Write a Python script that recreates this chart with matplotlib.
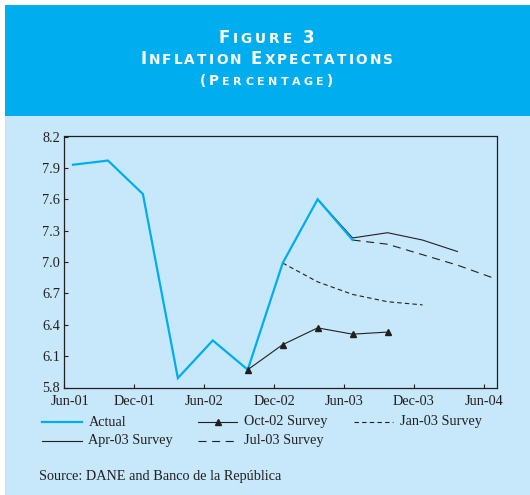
import matplotlib
matplotlib.use("Agg")
import matplotlib.pyplot as plt
from matplotlib.lines import Line2D
from matplotlib.patches import Rectangle
import matplotlib.transforms as mtransforms

# ---------------- data ----------------
actual_q = ["Jun-01", "Sep-01", "Dec-01", "Mar-02", "Jun-02", "Sep-02", "Dec-02", "Mar-03", "Jun-03"]
actual = [7.93, 7.97, 7.65, 5.89, 6.25, 5.97, 6.99, 7.60, 7.21]

oct02_q = ["Sep-02", "Dec-02", "Mar-03", "Jun-03", "Sep-03"]
oct02 = [5.97, 6.21, 6.37, 6.31, 6.33]

jan03_q = ["Dec-02", "Mar-03", "Jun-03", "Sep-03", "Dec-03"]
jan03 = [6.99, 6.81, 6.69, 6.62, 6.59]

apr03_q = ["Mar-03", "Jun-03", "Sep-03", "Dec-03", "Mar-04"]
apr03 = [7.60, 7.23, 7.28, 7.21, 7.10]

jul03_q = ["Jun-03", "Sep-03", "Dec-03", "Mar-04", "Jun-04"]
jul03 = [7.21, 7.17, 7.07, 6.97, 6.85]

xtick_labels = ["Jun-01", "Dec-01", "Jun-02", "Dec-02", "Jun-03", "Dec-03", "Jun-04"]
yticks = [5.8, 6.1, 6.4, 6.7, 7.0, 7.3, 7.6, 7.9, 8.2]

legend_labels = ["Actual", "Oct-02 Survey", "Jan-03 Survey", "Apr-03 Survey", "Jul-03 Survey"]
source_text = "Source: DANE and Banco de la República"
title_lines = ["Figure 3", "Inflation Expectations", "(Percentage)"]

# ---------------- helpers ----------------
MONTHS = {"Jan": 1, "Feb": 2, "Mar": 3, "Apr": 4, "May": 5, "Jun": 6,
          "Jul": 7, "Aug": 8, "Sep": 9, "Oct": 10, "Nov": 11, "Dec": 12}


def month_index(lbl):
    mon, yy = lbl.split("-")
    return (2000 + int(yy)) * 12 + MONTHS[mon] - (2001 * 12 + 6)


def xs(labels):
    return [month_index(l) for l in labels]


W, H = 530, 495
HEADER = "#00AEEF"
PANEL = "#C6E8FA"
DARK = "#231F20"
BLUE = "#00AEEF"

plt.rcParams["font.family"] = ["Liberation Serif", "DejaVu Serif"]
plt.rcParams["lines.scale_dashes"] = False

fig = plt.figure(figsize=(W / 100, H / 100), dpi=100)
fig.patch.set_facecolor("white")


def fx(x):
    return x / W


def fy(y):
    return 1 - y / H


# background panels
fig.add_artist(Rectangle((fx(5), fy(116)), fx(525), 111 / H, transform=fig.transFigure,
                         facecolor=HEADER, edgecolor="none", zorder=-5))
fig.add_artist(Rectangle((fx(5), 0), fx(525), fy(116), transform=fig.transFigure,
                         facecolor=PANEL, edgecolor="none", zorder=-5))

# axes
L, R, T, B = 63.5, 497, 136.5, 387.5
ax = fig.add_axes([fx(L), fy(B), fx(R - L), (B - T) / H])
ax.set_facecolor("none")

px_per_month = 11.65
x0 = -(73 - L) / px_per_month
ax.set_xlim(x0, x0 + (R - L) / px_per_month)
ax.set_ylim(5.8, 8.2)

ax.plot(xs(apr03_q), apr03, color=DARK, lw=0.8, zorder=2)
ax.plot(xs(jul03_q), jul03, color=DARK, lw=0.8, dashes=(5.8, 4.0), zorder=2)
ax.plot(xs(jan03_q), jan03, color=DARK, lw=0.8, dashes=(3.2, 2.3), zorder=2)
ax.plot(xs(oct02_q), oct02, color=DARK, lw=0.8, marker="^", ms=4.2, zorder=3)
ax.plot(xs(actual_q), actual, color=BLUE, lw=1.6, zorder=2.5, solid_joinstyle="miter")

tick_offset = 0.75
ax.set_xticks([month_index(l) - tick_offset for l in xtick_labels])
ax.set_xticklabels(xtick_labels)
ax.set_yticks(yticks)
ax.set_yticklabels([f"{v:.1f}" for v in yticks])
ax.tick_params(direction="in", length=3, width=0.8, color=DARK, labelsize=10.3,
               labelcolor=DARK)
ax.tick_params(axis="y", pad=2.5)
ax.tick_params(axis="x", pad=5.5)
for s in ax.spines.values():
    s.set_color(DARK)
    s.set_linewidth(0.9)

# shift first x label to the right (as in the reference)
lab0 = ax.get_xticklabels()[0]
lab0.set_transform(lab0.get_transform() + mtransforms.ScaledTranslation(6 / 100, 0, fig.dpi_scale_trans))

# ---------------- legend (manual) ----------------
rows = [422, 440.5]
cols = [(42, 82), (198, 237), (354, 393)]
styles = [
    dict(color=BLUE, lw=1.6),
    dict(color=DARK, lw=0.8),
    dict(color=DARK, lw=0.8, dashes=(3.2, 2.3)),
    dict(color=DARK, lw=0.8),
    dict(color=DARK, lw=0.8, dashes=(5.8, 4.0)),
]
slots = [(0, 0), (0, 1), (0, 2), (1, 0), (1, 1)]
for lbl, st, (r, c) in zip(legend_labels, styles, slots):
    xa, xb = cols[c]
    y = rows[r]
    fig.add_artist(Line2D([fx(xa), fx(xb)], [fy(y), fy(y)], transform=fig.transFigure, **st))
    if lbl.startswith("Oct"):
        fig.add_artist(Line2D([fx((xa + xb) / 2)], [fy(y)], transform=fig.transFigure,
                              marker="^", ms=4.2, color=DARK, lw=0))
    fig.text(fx(xb + 6.5), fy(y), lbl, fontsize=10.3, color=DARK, va="center", ha="left")

fig.text(fx(39), fy(480), source_text, fontsize=10.3, color=DARK, va="baseline", ha="left")

# ---------------- small-caps header ----------------
renderer = fig.canvas.get_renderer()
ident = mtransforms.IdentityTransform()


def smallcaps(s, cx, base_y, big, small, target_w):
    parts = []
    for ch in s:
        size = small if ch.islower() else big
        t = fig.text(0, 0, ch.upper(), fontsize=size, color="white", fontweight="bold",
                     family="DejaVu Sans", transform=ident, ha="left", va="baseline")
        parts.append(t)
    widths = []
    for t in parts:
        if t.get_text() == " ":
            widths.append(big * 0.32 * 100 / 72)
        else:
            widths.append(t.get_window_extent(renderer).width)
    track = (target_w - sum(widths)) / (len(parts) - 1)
    x = cx - target_w / 2
    ydisp = H - base_y
    for t, w in zip(parts, widths):
        t.set_position((x, ydisp))
        x += w + track


smallcaps(title_lines[0], 266.5, 42.7, 12.0, 9.8, 97)
smallcaps(title_lines[1], 266.5, 64.0, 12.0, 9.8, 253)
smallcaps(title_lines[2], 266.5, 85.0, 9.8, 8.0, 134)

fig.savefig("out.png", dpi=100, facecolor=fig.get_facecolor())
